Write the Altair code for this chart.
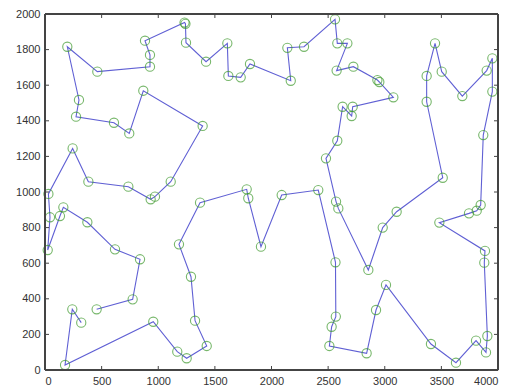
import altair as alt
import pandas as pd

# tour order, city coordinates
xs = [320, 241, 177, 956, 1168, 1251, 1428, 1325, 1289, 1183,
      1369, 1781, 1795, 1907, 2090, 2413, 2565, 2568, 2531, 2511,
      2840, 2923, 3011, 3408, 3629, 3806, 3894, 3906, 3879, 3885,
      3482, 3744, 3812, 3847, 3870, 3950, 3950, 3900, 3685, 3503,
      3444, 3370, 3370, 3512, 3105, 2982, 2855, 2590, 2570, 2481,
      2581, 2628, 2708, 2717, 3076, 2952, 2935, 2723, 2575, 2670,
      2581, 2561, 2287, 2140, 2170, 1810, 1728, 1619, 1610, 1422,
      1245, 1240, 1232, 883, 927, 927, 462, 197, 300, 274,
      609, 744, 868, 1392, 1110, 971, 933, 736, 383, 244,
      30, 44, 24, 132, 162, 374, 618, 839, 774, 456]
ys = [266, 341, 28, 271, 103, 66, 135, 277, 524, 706,
      940, 1015, 965, 693, 983, 1011, 605, 300, 243, 135,
      94, 337, 478, 146, 41, 165, 99, 191, 603, 669,
      828, 880, 895, 927, 1320, 1564, 1751, 1682, 1539, 1676,
      1835, 1652, 1507, 1080, 889, 800, 562, 908, 946, 1189,
      1288, 1479, 1427, 1479, 1532, 1618, 1629, 1704, 1682, 1835,
      1835, 1970, 1816, 1810, 1625, 1719, 1644, 1652, 1835, 1732,
      1839, 1945, 1952, 1850, 1770, 1704, 1676, 1816, 1517, 1423,
      1389, 1329, 1569, 1371, 1058, 974, 959, 1030, 1058, 1245,
      989, 858, 674, 865, 914, 830, 678, 622, 397, 341]

x_ticks = [0, 500, 1000, 1500, 2000, 2500, 3000, 3500, 4000]
y_ticks = [0, 200, 400, 600, 800, 1000, 1200, 1400, 1600, 1800, 2000]
x_range = [0, 4000]
y_range = [0, 2000]

df = pd.DataFrame({"x": xs, "y": ys, "i": list(range(len(xs)))})
dfx = pd.DataFrame({"t": x_ticks})
dfy = pd.DataFrame({"t": y_ticks})

W, H = 453, 356
FONT = "Liberation Sans"
AX = "#444"
TL = 4
xscale = alt.Scale(domain=x_range, nice=False, zero=False)
yscale = alt.Scale(domain=y_range, nice=False, zero=False)
xaxis = alt.Axis(values=x_ticks, format="d", ticks=False, grid=False, domain=False,
                 labelFontSize=11, labelFont=FONT, labelColor="#333",
                 labelPadding=5, title=None)
yaxis = alt.Axis(values=y_ticks, format="d", ticks=False, grid=False, domain=False,
                 labelFontSize=11, labelFont=FONT, labelColor="#333",
                 labelPadding=5, title=None)


def X(f):
    return alt.X(f, type="quantitative", scale=xscale, axis=xaxis, title=None)


def Y(f):
    return alt.Y(f, type="quantitative", scale=yscale, axis=yaxis, title=None)


line = alt.Chart(df).mark_line(color="#6060d4", strokeWidth=1.1).encode(
    x=X("x"), y=Y("y"), order="i:Q",
)

pts = alt.Chart(df).mark_point(shape="circle", filled=False, color="#3f9a2e",
                               size=85, strokeWidth=1.1).encode(
    x=X("x"), y=Y("y"),
)

# plot box
box = alt.Chart(df).mark_rect(fill=None, stroke=AX, strokeWidth=1).encode(
    x=alt.datum(x_range[0], type="quantitative", scale=xscale, axis=xaxis),
    x2=alt.datum(x_range[1]),
    y=alt.datum(y_range[0], type="quantitative", scale=yscale, axis=yaxis),
    y2=alt.datum(y_range[1]),
)

# inward ticks
xt_bottom = alt.Chart(dfx).mark_rule(color=AX).encode(
    x=X("t"), y=alt.value(H), y2=alt.value(H - TL))
xt_top = alt.Chart(dfx).mark_rule(color=AX).encode(
    x=X("t"), y=alt.value(0), y2=alt.value(TL))
yt_left = alt.Chart(dfy).mark_rule(color=AX).encode(
    y=Y("t"), x=alt.value(0), x2=alt.value(TL))
yt_right = alt.Chart(dfy).mark_rule(color=AX).encode(
    y=Y("t"), x=alt.value(W), x2=alt.value(W - TL))

chart = alt.layer(line, pts, box, xt_bottom, xt_top, yt_left, yt_right).properties(
    width=W, height=H,
    autosize=alt.AutoSizeParams(type="none"),
    padding={"left": 37, "top": 6, "right": 3, "bottom": 20},
).configure_view(stroke=None).configure(background="white")

chart.save("out.html", embed_options={"renderer": "svg", "actions": False})
